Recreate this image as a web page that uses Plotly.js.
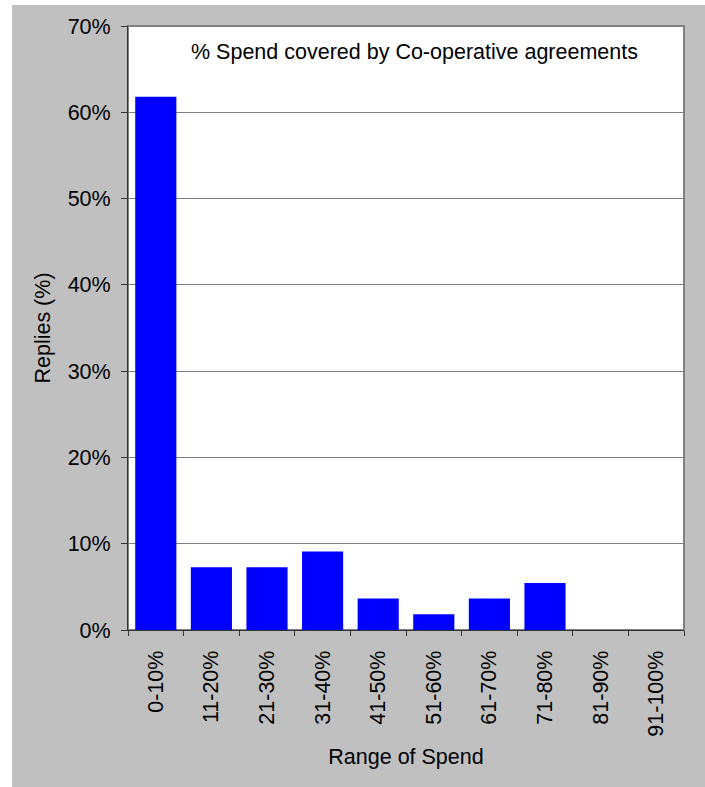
<!DOCTYPE html>
<html>
<head>
<meta charset="utf-8">
<script src="https://cdn.plot.ly/plotly-3.0.1.min.js"></script>
<style>
  html, body { margin: 0; padding: 0; background: #ffffff; }
  #chart { position: absolute; left: 12px; top: 5px; width: 693px; height: 782px; }
</style>
</head>
<body>
<div id="chart"></div>
<script>
const categories = ["0-10%", "11-20%", "21-30%", "31-40%", "41-50%", "51-60%", "61-70%", "71-80%", "81-90%", "91-100%"];
const replies = [61.8, 7.27, 7.27, 9.09, 3.64, 1.82, 3.64, 5.45, 0, 0];
const yTickValues = [0, 10, 20, 30, 40, 50, 60, 70];
const yTickLabels = ["0%", "10%", "20%", "30%", "40%", "50%", "60%", "70%"];
const chartTitle = "% Spend covered by Co-operative agreements";
const xTitle = "Range of Spend";
const yTitle = "Replies (%)";

const font = { family: "Liberation Sans, Arial, sans-serif", size: 21.5, color: "#000000" };

const trace = {
  type: "bar",
  x: categories,
  y: replies,
  marker: { color: "#0000ff", line: { width: 0 } },
  hoverinfo: "x+y"
};

const layout = {
  width: 693,
  height: 782,
  margin: { l: 116, r: 21, t: 21, b: 157, pad: 0 },
  paper_bgcolor: "#c0c0c0",
  plot_bgcolor: "#ffffff",
  font: font,
  showlegend: false,
  bargap: 0.26,
  xaxis: {
    type: "category",
    tickangle: -90,
    ticks: "outside",
    tickson: "boundaries",
    ticklen: 5,
    tickcolor: "#333333",
    ticklabelstandoff: 11,
    showline: true,
    linecolor: "#333333",
    linewidth: 1,
    showgrid: false,
    zeroline: false,
    tickfont: font,
    automargin: false,
    title: { text: xTitle, font: font, standoff: 13 }
  },
  yaxis: {
    range: [0, 70],
    tickmode: "array",
    tickvals: yTickValues,
    ticktext: yTickLabels,
    ticks: "outside",
    ticklen: 6,
    tickcolor: "#333333",
    ticklabelstandoff: 6,
    showline: true,
    linecolor: "#333333",
    linewidth: 1,
    showgrid: true,
    gridcolor: "#808080",
    gridwidth: 1,
    zeroline: false,
    tickfont: font,
    automargin: false,
    title: { text: yTitle, font: font, standoff: 11 }
  },
  shapes: [{
    type: "rect", xref: "paper", yref: "paper",
    x0: 0, x1: 1, y0: 0, y1: 1,
    line: { color: "#808080", width: 2 },
    layer: "below"
  }],
  annotations: [{
    text: chartTitle,
    xref: "paper", yref: "paper",
    x: 0.515, y: 0.957,
    xanchor: "center", yanchor: "middle",
    showarrow: false,
    font: font
  }]
};

Plotly.newPlot("chart", [trace], layout, { displayModeBar: false, staticPlot: true });
</script>
</body>
</html>
